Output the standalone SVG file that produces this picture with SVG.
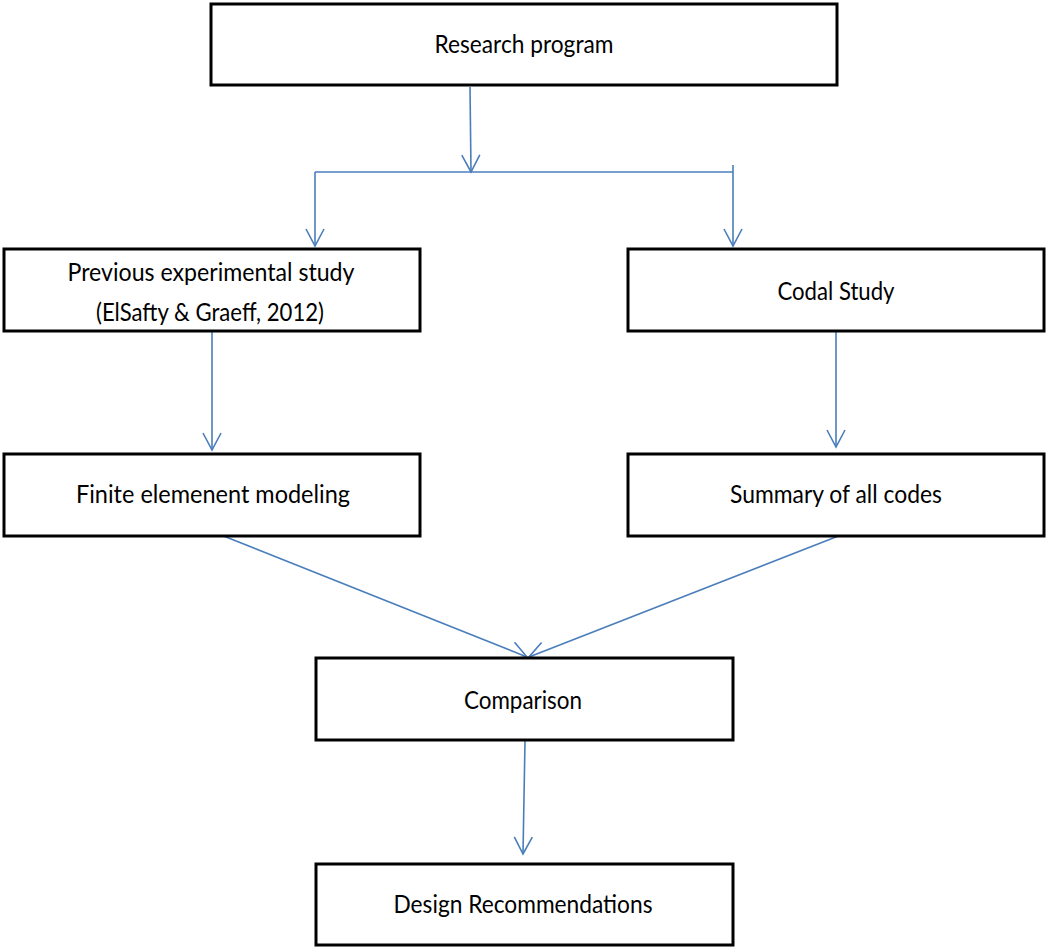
<svg xmlns="http://www.w3.org/2000/svg" width="1048" height="948" viewBox="0 0 1048 948">
<style>
.box{fill:#fff;stroke:#000;stroke-width:3}
.lbl{font-family:Lato,"Open Sans","Liberation Sans",sans-serif;font-size:25.5px;fill:#000;text-anchor:middle}
.conn{fill:none;stroke:#4A7EBB;stroke-width:1.6}
</style>
<defs>
<marker id="arr" markerUnits="userSpaceOnUse" markerWidth="22" markerHeight="22" viewBox="-19 -11 22 22" refX="0" refY="0" orient="auto">
<path d="M-17,-9 L0,0 L-17,9" fill="none" stroke="#4A7EBB" stroke-width="1.6"/>
</marker>
</defs>
<rect width="1048" height="948" fill="#fff"/>
<g id="connectors">
<line class="conn" x1="470" y1="87" x2="471" y2="172" marker-end="url(#arr)"/>
<line class="conn" x1="315" y1="172" x2="733" y2="172"/>
<line class="conn" x1="315" y1="172" x2="315" y2="246" marker-end="url(#arr)"/>
<line class="conn" x1="733" y1="165" x2="733" y2="246" marker-end="url(#arr)"/>
<line class="conn" x1="212" y1="332" x2="212" y2="450" marker-end="url(#arr)"/>
<line class="conn" x1="836" y1="332" x2="836" y2="447" marker-end="url(#arr)"/>
<line class="conn" x1="216" y1="533" x2="527" y2="657" marker-end="url(#arr)"/>
<line class="conn" x1="841" y1="535" x2="529" y2="657" marker-end="url(#arr)"/>
<line class="conn" x1="525" y1="741" x2="523" y2="854" marker-end="url(#arr)"/>
</g>
<g id="research">
<rect class="box" x="211" y="4" width="626" height="81"/>
<text class="lbl" x="524" y="53" textLength="179" lengthAdjust="spacingAndGlyphs">Research program</text>
</g>
<g id="previous">
<rect class="box" x="4" y="249" width="416" height="82"/>
<text class="lbl" x="211" y="281" textLength="287" lengthAdjust="spacingAndGlyphs">Previous experimental study</text>
<text class="lbl" x="210" y="321" textLength="228" lengthAdjust="spacingAndGlyphs">(ElSafty &amp; Graeff, 2012)</text>
</g>
<g id="codal">
<rect class="box" x="628" y="249" width="416" height="82"/>
<text class="lbl" x="836" y="300" textLength="117" lengthAdjust="spacingAndGlyphs">Codal Study</text>
</g>
<g id="finite">
<rect class="box" x="4" y="454" width="416" height="82"/>
<text class="lbl" x="213" y="503" textLength="274" lengthAdjust="spacingAndGlyphs">Finite elemenent modeling</text>
</g>
<g id="summary">
<rect class="box" x="628" y="454" width="416" height="82"/>
<text class="lbl" x="836" y="503" textLength="212" lengthAdjust="spacingAndGlyphs">Summary of all codes</text>
</g>
<g id="comparison">
<rect class="box" x="316" y="658" width="417" height="82"/>
<text class="lbl" x="523" y="709" textLength="118" lengthAdjust="spacingAndGlyphs">Comparison</text>
</g>
<g id="design">
<rect class="box" x="316" y="864" width="417" height="81"/>
<text class="lbl" x="523" y="913" textLength="259" lengthAdjust="spacingAndGlyphs">Design Recommendations</text>
</g>
</svg>
